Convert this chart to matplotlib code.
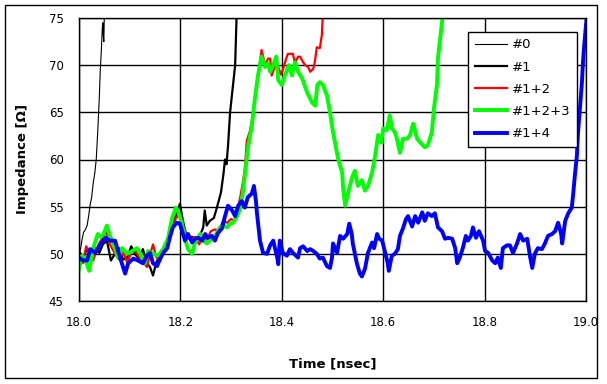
import matplotlib
matplotlib.use("Agg")
import matplotlib.pyplot as plt
from matplotlib.patches import Rectangle

# time [nsec] / impedance [ohm]
t0 = [18.000, 18.003, 18.006, 18.009, 18.012, 18.016, 18.019, 18.022, 18.025, 18.028,
      18.031, 18.034, 18.037, 18.040, 18.042, 18.044, 18.046, 18.047, 18.048, 18.049, 18.050]
z0 = [50.0, 50.5, 51.5, 52.3, 52.5, 53.0, 54.0, 55.2, 56.0, 57.5,
      58.5, 60.0, 63.0, 66.5, 69.5, 71.5, 74.0, 74.5, 73.0, 72.5, 75.5]

t1 = [18.000, 18.008, 18.016, 18.024, 18.032, 18.040, 18.047, 18.055, 18.063, 18.071,
      18.079, 18.087, 18.095, 18.103, 18.110, 18.118, 18.126, 18.134, 18.140, 18.146,
      18.152, 18.160, 18.168, 18.176, 18.183, 18.191, 18.199, 18.205, 18.210, 18.217,
      18.223, 18.231, 18.239, 18.245, 18.248, 18.252, 18.258, 18.266, 18.272, 18.280,
      18.285, 18.288, 18.291, 18.294, 18.298, 18.303, 18.308, 18.311]
z1 = [50.3, 49.6, 50.5, 50.0, 50.6, 50.1, 51.0, 51.4, 49.3, 50.0,
      50.6, 49.4, 49.6, 50.8, 50.0, 49.5, 50.5, 49.0, 48.6, 47.7,
      49.0, 50.0, 50.6, 51.5, 52.8, 54.0, 55.3, 53.5, 52.3, 51.6,
      51.8, 51.5, 52.0, 52.8, 54.6, 53.0, 53.5, 53.8, 54.9, 56.5,
      58.5, 60.0, 59.5, 61.5, 65.0, 67.5, 70.0, 75.5]

t12 = [18.000, 18.008, 18.014, 18.022, 18.028, 18.037, 18.045, 18.053, 18.061, 18.071,
       18.079, 18.087, 18.095, 18.103, 18.110, 18.118, 18.126, 18.134, 18.140, 18.146,
       18.152, 18.160, 18.168, 18.176, 18.183, 18.191, 18.199, 18.205, 18.212, 18.220,
       18.229, 18.237, 18.245, 18.252, 18.260, 18.268, 18.276, 18.284, 18.292, 18.300,
       18.306, 18.312, 18.318, 18.323, 18.327, 18.331, 18.337, 18.343, 18.349, 18.355,
       18.360, 18.367, 18.373, 18.377, 18.380, 18.386, 18.392, 18.398, 18.402, 18.408,
       18.412, 18.422, 18.426, 18.432, 18.436, 18.441, 18.446, 18.452, 18.456, 18.462,
       18.465, 18.469, 18.475, 18.479, 18.481]
z12 = [50.0, 49.0, 50.8, 50.0, 49.3, 50.8, 51.6, 52.3, 51.0, 50.0,
       49.4, 50.2, 49.1, 50.1, 50.4, 49.7, 49.2, 48.6, 49.9, 51.0,
       49.7, 49.2, 50.3, 51.2, 52.5, 53.8, 54.2, 53.0, 52.0, 51.5,
       51.8, 51.0, 52.0, 51.5, 52.4, 52.6, 52.4, 53.5, 53.3, 53.7,
       53.5, 54.5, 56.0, 57.5, 59.0, 62.0, 63.0, 64.7, 67.5, 69.5,
       71.6, 70.0, 70.7, 70.7, 68.9, 69.8, 70.0, 69.0, 69.5, 70.6,
       71.2, 71.2, 70.2, 70.9, 70.9, 70.4, 70.0, 69.8, 69.3, 69.6,
       70.3, 71.9, 71.8, 73.2, 75.5]

t123 = [18.000, 18.006, 18.012, 18.020, 18.028, 18.037, 18.045, 18.055, 18.061, 18.071,
        18.077, 18.085, 18.095, 18.105, 18.114, 18.120, 18.130, 18.136, 18.146, 18.156,
        18.166, 18.176, 18.183, 18.191, 18.195, 18.203, 18.209, 18.215, 18.223, 18.229,
        18.239, 18.245, 18.252, 18.262, 18.268, 18.278, 18.284, 18.292, 18.298, 18.304,
        18.312, 18.318, 18.323, 18.327, 18.333, 18.341, 18.347, 18.353, 18.360, 18.367,
        18.373, 18.377, 18.383, 18.389, 18.393, 18.400, 18.406, 18.414, 18.420, 18.426,
        18.432, 18.440, 18.450, 18.460, 18.466, 18.470, 18.475, 18.481, 18.489, 18.495,
        18.501, 18.511, 18.519, 18.521, 18.525, 18.531, 18.538, 18.544, 18.550, 18.558,
        18.564, 18.570, 18.578, 18.584, 18.590, 18.596, 18.600, 18.607, 18.613, 18.617,
        18.623, 18.627, 18.633, 18.639, 18.647, 18.653, 18.659, 18.667, 18.673, 18.682,
        18.688, 18.696, 18.700, 18.706, 18.708, 18.712, 18.718]
z123 = [48.4, 49.8, 49.5, 48.2, 50.6, 52.1, 51.7, 53.0, 51.9, 50.6,
        49.6, 50.6, 50.0, 50.3, 50.6, 50.1, 49.0, 50.3, 50.0, 49.8,
        50.5, 51.7, 53.7, 54.9, 54.6, 53.2, 51.6, 50.5, 50.0, 51.2,
        52.1, 51.4, 51.1, 51.6, 51.9, 52.8, 53.0, 52.8, 53.2, 53.3,
        54.0, 54.8, 56.4, 58.3, 61.2, 63.6, 66.5, 68.9, 70.9, 69.8,
        70.2, 69.3, 70.0, 70.9, 68.4, 67.9, 68.9, 70.0, 68.9, 70.3,
        69.3, 68.6, 67.1, 66.0, 65.7, 67.9, 68.2, 67.9, 66.8, 65.0,
        62.9, 60.1, 58.6, 56.9, 55.1, 56.5, 58.0, 58.8, 57.2, 57.8,
        56.7, 57.2, 58.6, 60.4, 62.6, 61.8, 63.3, 63.1, 64.7, 63.3,
        62.9, 62.2, 60.7, 62.2, 62.2, 62.6, 63.8, 62.2, 61.8, 61.3,
        61.5, 62.9, 65.4, 67.9, 70.7, 72.7, 75.5]

t14 = [18.000, 18.008, 18.016, 18.022, 18.032, 18.041, 18.051, 18.061, 18.071, 18.081,
       18.091, 18.097, 18.107, 18.116, 18.126, 18.134, 18.140, 18.146, 18.154, 18.160,
       18.166, 18.174, 18.179, 18.185, 18.193, 18.199, 18.205, 18.209, 18.215, 18.223,
       18.229, 18.235, 18.243, 18.249, 18.254, 18.262, 18.268, 18.274, 18.282, 18.288,
       18.294, 18.302, 18.308, 18.314, 18.321, 18.327, 18.333, 18.341, 18.345, 18.349,
       18.351, 18.357, 18.363, 18.371, 18.377, 18.383, 18.391, 18.393, 18.396, 18.402,
       18.410, 18.416, 18.422, 18.432, 18.436, 18.442, 18.450, 18.456, 18.462, 18.469,
       18.475, 18.481, 18.489, 18.495, 18.499, 18.501, 18.509, 18.515, 18.521, 18.529,
       18.533, 18.538, 18.540, 18.548, 18.554, 18.558, 18.564, 18.570, 18.578, 18.582,
       18.588, 18.592, 18.598, 18.604, 18.609, 18.611, 18.617, 18.623, 18.629, 18.633,
       18.639, 18.645, 18.649, 18.657, 18.663, 18.669, 18.677, 18.682, 18.688, 18.696,
       18.702, 18.708, 18.716, 18.722, 18.728, 18.736, 18.742, 18.746, 18.751, 18.757,
       18.763, 18.767, 18.773, 18.777, 18.783, 18.789, 18.797, 18.801, 18.807, 18.815,
       18.821, 18.826, 18.832, 18.836, 18.844, 18.850, 18.856, 18.864, 18.870, 18.876,
       18.884, 18.890, 18.894, 18.899, 18.905, 18.913, 18.919, 18.925, 18.933, 18.939,
       18.945, 18.951, 18.953, 18.959, 18.965, 18.972, 18.975, 18.978, 18.982, 18.984,
       18.988, 18.992, 18.994, 18.996, 19.000, 19.002]
z14 = [49.6, 49.3, 49.3, 50.5, 50.1, 50.9, 51.7, 51.4, 51.4, 49.6,
       47.9, 49.0, 49.5, 49.3, 49.0, 49.8, 50.1, 49.0, 48.7, 49.5,
       50.1, 50.6, 51.7, 52.8, 53.3, 53.2, 52.1, 51.4, 52.1, 51.2,
       51.6, 51.7, 51.4, 52.1, 51.7, 51.9, 51.4, 52.2, 52.7, 54.0,
       55.1, 54.6, 54.0, 55.1, 55.6, 54.9, 56.0, 56.4, 57.2, 55.6,
       54.3, 51.4, 50.1, 50.0, 50.9, 51.4, 49.6, 48.9, 51.4, 50.1,
       49.8, 50.5, 50.1, 49.6, 50.6, 50.8, 50.3, 50.5, 50.3, 50.0,
       49.5, 49.6, 48.7, 48.5, 49.6, 51.1, 50.1, 51.9, 51.6, 52.1,
       53.2, 52.1, 51.1, 49.0, 47.9, 47.6, 48.4, 50.1, 51.2, 50.6,
       52.1, 51.6, 51.4, 50.1, 49.0, 48.2, 49.8, 50.0, 50.5, 51.9,
       52.7, 53.7, 54.0, 52.9, 54.0, 53.3, 54.4, 53.5, 54.3, 54.0,
       54.3, 52.8, 52.4, 51.6, 51.7, 51.6, 50.6, 49.0, 49.6, 50.6,
       51.9, 51.4, 51.9, 52.8, 51.7, 52.4, 51.4, 50.3, 50.1, 49.3,
       49.0, 49.6, 48.5, 50.6, 50.9, 50.9, 50.1, 51.1, 52.1, 51.4,
       51.6, 49.6, 48.5, 50.0, 50.6, 50.5, 51.1, 51.9, 52.1, 52.4,
       53.3, 52.1, 51.1, 53.5, 54.3, 54.9, 56.5, 58.3, 60.4, 62.6,
       65.4, 68.2, 70.3, 71.8, 74.3, 75.5]

labels = ["#0", "#1", "#1+2", "#1+2+3", "#1+4"]

plt.rcParams['font.family'] = ['DejaVu Sans']

fig = plt.figure(figsize=(6.07, 3.84), dpi=100)
ax = fig.add_axes([79 / 607, 1 - 301 / 384, 507 / 607, 283 / 384])

ax.plot(t0, z0, color="black", lw=0.8, label=labels[0])
ax.plot(t1, z1, color="black", lw=1.6, label=labels[1])
ax.plot(t12, z12, color="#ff0000", lw=1.6, label=labels[2])
ax.plot(t123, z123, color="#00ff00", lw=2.8, label=labels[3])
ax.plot(t14, z14, color="#0000ff", lw=2.8, label=labels[4])

ax.set_xlim(18.0, 19.0)
ax.set_ylim(45, 75)
ax.set_xticks([18.0, 18.2, 18.4, 18.6, 18.8, 19.0])
ax.set_xticklabels(["18.0", "18.2", "18.4", "18.6", "18.8", "19.0"])
ax.set_yticks([45, 50, 55, 60, 65, 70, 75])
ax.grid(True, color="black", lw=1.0)
ax.set_axisbelow(True)
ax.tick_params(length=0, labelsize=8.5, pad=11)
for s in ax.spines.values():
    s.set_linewidth(1.0)

ax.set_xlabel("Time [nsec]", fontsize=9.5, fontweight="bold", labelpad=20)
ax.set_ylabel("Impedance [Ω]", fontsize=9.5, fontweight="bold", labelpad=14)

leg = ax.legend(loc="upper left", bbox_to_anchor=(0.755, 0.975), fontsize=9.5,
                frameon=True, fancybox=False, edgecolor="black", framealpha=1,
                handlelength=2.4, labelspacing=0.7, borderpad=0.5, handletextpad=0.4)
leg.get_frame().set_linewidth(1.0)

fig.patches.append(Rectangle((5 / 607, 6 / 384), 592 / 607, 373 / 384, transform=fig.transFigure,
                             fill=False, edgecolor="black", lw=1.0))

fig.savefig("out.png", dpi=100)
